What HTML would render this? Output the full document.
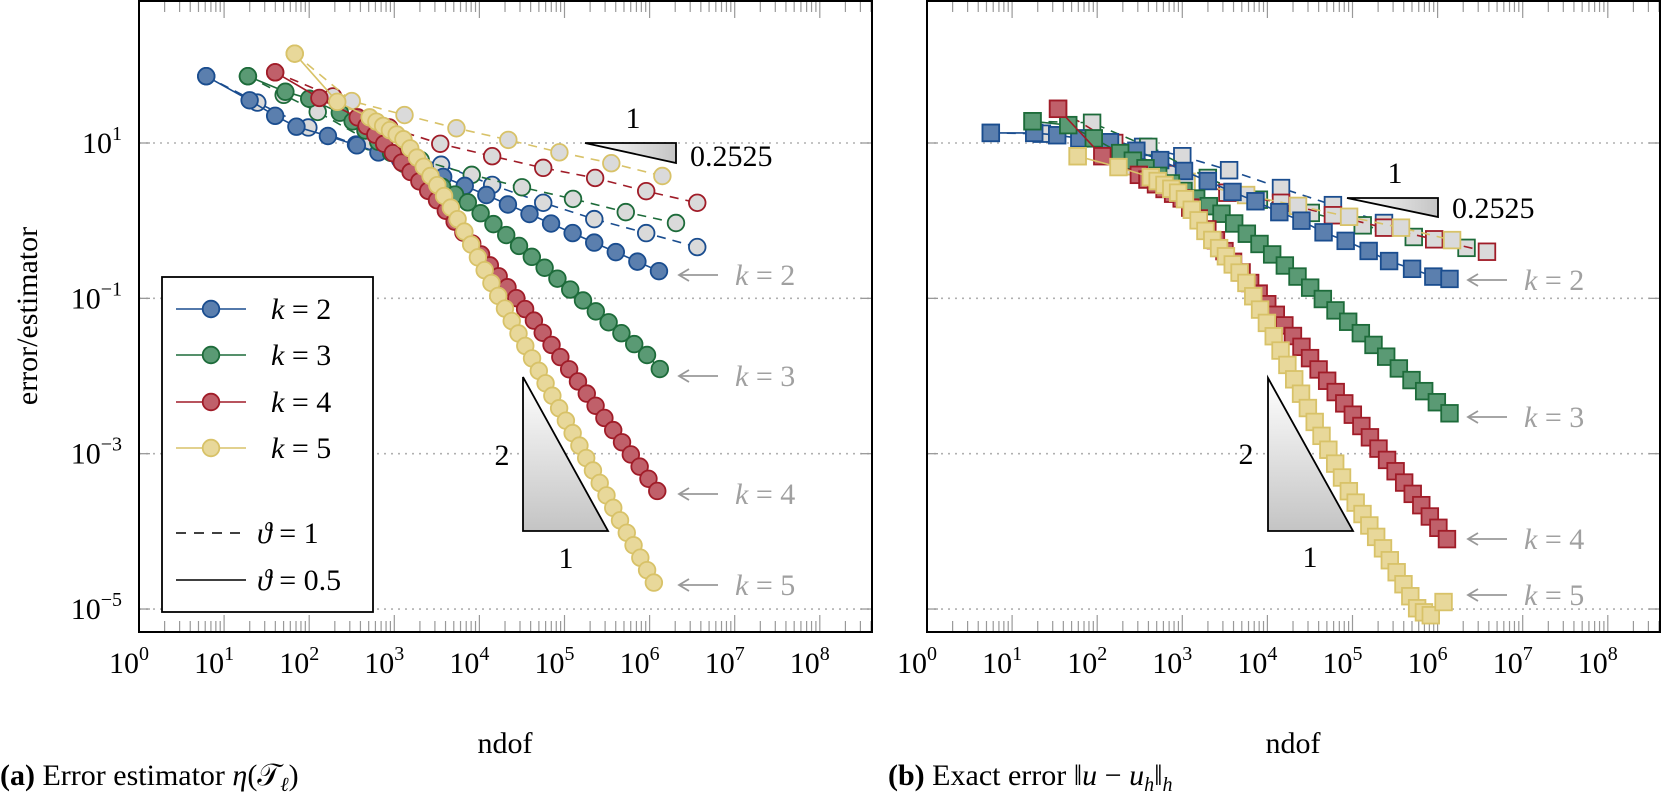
<!DOCTYPE html>
<html><head><meta charset="utf-8"><style>
html,body{margin:0;padding:0;background:#fff;}
svg{display:block;}
text{font-family:"Liberation Serif","DejaVu Serif",serif;}
</style></head><body>
<svg id="s" width="1661" height="797" viewBox="0 0 1661 797" xmlns="http://www.w3.org/2000/svg">
<defs>
<linearGradient id="gh" x1="0" y1="0" x2="1" y2="0"><stop offset="0" stop-color="#fff"/><stop offset="1" stop-color="#c4c4c4"/></linearGradient>
<linearGradient id="gv" x1="0" y1="0" x2="0" y2="1"><stop offset="0" stop-color="#fff"/><stop offset="1" stop-color="#c4c4c4"/></linearGradient>
<clipPath id="c1"><rect x="139" y="1" width="733" height="631"/></clipPath>
<clipPath id="c2"><rect x="927" y="1" width="733" height="631"/></clipPath>
</defs>
<g id="root"></g>
</svg>
<script>
const NS="http://www.w3.org/2000/svg";
const root=document.getElementById('root');
function el(tag,attrs,parent,txt){const e=document.createElementNS(NS,tag);for(const k in attrs)e.setAttribute(k,attrs[k]);if(txt!==undefined)e.textContent=txt;(parent||root).appendChild(e);return e;}
const C={b:['#5b7fae','#1a4d8f'],g:['#5a9a74','#1d6b3a'],r:['#c0606a','#a01c28'],y:['#e8d89a','#d8c268']};
const Y=lv=>143-77.67*(lv-1);
function axes(x0,labelsY){
  const X=l=>x0+85.1*l;
  // gridlines
  [1,-1,-3,-5].forEach(e=>{const y=Y(e);el('line',{x1:x0,x2:x0+733,y1:y,y2:y,stroke:'#b0b0b0','stroke-width':1.6,'stroke-dasharray':'2 5'});
    el('line',{x1:x0,x2:x0+11,y1:y,y2:y,stroke:'#999','stroke-width':1.3});el('line',{x1:x0+722,x2:x0+733,y1:y,y2:y,stroke:'#999','stroke-width':1.3});
    if(labelsY){const t=el('text',{x:122,y:y+10,'font-size':30,'text-anchor':'end'});el('tspan',{},t,'10');el('tspan',{'font-size':20,dy:-13},t,e<0?'\u2212'+(-e):''+e);}
  });
  for(let d=0;d<=8;d++){
    for(let m=1;m<10;m++){const l=d+Math.log10(m);const x=X(l);if(x>x0+733)break;
      const len=m==1?17:11;
      el('line',{x1:x,x2:x,y1:632,y2:632-len,stroke:'#999','stroke-width':1.2});
      el('line',{x1:x,x2:x,y1:1,y2:1+len,stroke:'#999','stroke-width':1.2});}
    const t=el('text',{x:X(d)-10,y:673,'font-size':30,'text-anchor':'middle'});el('tspan',{},t,'10');el('tspan',{'font-size':20,dy:-13},t,''+d);
  }
  el('rect',{x:x0,y:1,width:733,height:631,fill:'none',stroke:'#000','stroke-width':2});
  el('text',{x:x0+366,y:753,'font-size':30,'text-anchor':'middle'},null,'ndof');
  return X;
}
function interp(kn,l){for(let i=0;i<kn.length-1;i++){if(l<=kn[i+1][0]+1e-9){const a=kn[i],b=kn[i+1];const t=(l-a[0])/(b[0]-a[0]);return a[1]+t*(b[1]-a[1]);}}return kn[kn.length-1][1];}
function dense(kn,from,step,extra){const pts=kn.filter(p=>p[0]<from-1e-6);const end=kn[kn.length-1][0];const n=Math.round((end-from)/step);for(let i=0;i<=n;i++){const l=from+(end-from)*i/n;pts.push([l,interp(kn,l)]);}if(extra)extra.forEach(p=>pts.push(p));return pts;}
function series(X,pts,col,dashed,shape,clip){
  const g=el('g',{'clip-path':'url(#'+clip+')'});
  const d=pts.map((p,i)=>(i?'L':'M')+X(p[0]).toFixed(1)+' '+Y(p[1]).toFixed(1)).join(' ');
  el('path',{d:d,fill:'none',stroke:col[1],'stroke-width':1.6,'stroke-dasharray':dashed?'9 7':'none'},g);
  const fill=dashed?'#dadada':col[0];
  pts.forEach(p=>{const x=X(p[0]),y=Y(p[1]);
    if(shape=='c')el('circle',{cx:x,cy:y,r:8.3,fill:fill,stroke:col[1],'stroke-width':1.8},g);
    else el('rect',{x:x-8.3,y:y-8.3,width:16.6,height:16.6,fill:fill,stroke:col[1],'stroke-width':1.8},g);});
}
// ===== LEFT =====
let X1=axes(139,true);
const LD={
 b:[[0.79,1.86],[1.39,1.52],[1.99,1.2],[2.55,0.98],[3.05,0.86],[3.55,0.72],[4.15,0.46],[4.75,0.23],[5.35,0.02],[5.96,-0.16],[6.56,-0.34]],
 g:[[1.28,1.86],[1.7,1.62],[2.1,1.4],[2.71,1.02],[3.31,0.78],[3.91,0.59],[4.5,0.43],[5.1,0.28],[5.72,0.11],[6.31,-0.03]],
 r:[[1.6,1.91],[2.28,1.6],[2.94,1.2],[3.54,0.99],[4.15,0.83],[4.75,0.68],[5.36,0.55],[5.96,0.38],[6.56,0.23]],
 y:[[1.83,2.15],[2.5,1.54],[3.12,1.36],[3.73,1.19],[4.34,1.04],[4.94,0.88],[5.55,0.74],[6.15,0.575]]};
['b','g','r','y'].forEach(k=>series(X1,LD[k],C[k],true,'c','c1'));
series(X1,dense([[0.79,1.86],[1.30,1.55],[1.60,1.35],[1.85,1.21],[2.22,1.09],[2.56,0.97],[3.14,0.76],[4.0,0.37],[6.11,-0.65]],2.56,0.26),C.b,false,'c','c1');
series(X1,dense([[1.28,1.86],[1.72,1.66],[2.0,1.57],[2.36,1.39],[2.63,1.19],[3.10,0.74],[3.86,0.24],[5.97,-1.73],[6.12,-1.91]],2.36,0.15),C.g,false,'c','c1');
series(X1,dense([[1.6,1.91],[2.12,1.58],[2.57,1.33],[2.83,1.05],[3.53,0.23],[4.59,-1.21],[6.09,-3.48]],2.57,0.105),C.r,false,'c','c1');
series(X1,dense([[1.83,2.15],[2.33,1.53],[2.71,1.33],[3.10,1.06],[3.53,0.42],[3.77,-0.03],[4.26,-1.05],[6.05,-4.66]],2.71,0.08),C.y,false,'c','c1');
// ===== RIGHT =====
let X2=axes(927,false);
const RD={
 b:[[0.75,1.13],[1.35,1.12],[1.94,1.06],[2.54,0.95],[3.0,0.83],[3.55,0.65],[4.16,0.42],[4.77,0.2],[5.37,-0.03]],
 g:[[1.24,1.28],[1.94,1.26],[2.6,0.95],[3.3,0.55],[3.9,0.27],[4.51,0.1],[5.12,-0.06],[5.72,-0.21],[6.34,-0.35]],
 r:[[1.54,1.44],[2.2,1.0],[2.9,0.6],[3.53,0.36],[4.16,0.23],[4.77,0.07],[5.37,-0.09],[5.96,-0.24],[6.58,-0.40]],
 y:[[1.77,0.83],[2.4,0.7],[3.05,0.5],[3.75,0.33],[4.36,0.19],[4.96,0.05],[5.57,-0.09],[6.17,-0.25]]};
['b','g','r','y'].forEach(k=>series(X2,RD[k],C[k],true,'s','c2'));
series(X2,[[0.75,1.13],[1.26,1.13],[1.53,1.10],[1.79,1.06],[2.15,1.01],[2.46,0.9],[2.74,0.78],[3.02,0.64],[3.3,0.51],[3.59,0.37],[3.86,0.25],[4.14,0.11],[4.4,0.0],[4.66,-0.15],[4.92,-0.26],[5.19,-0.39],[5.43,-0.52],[5.7,-0.62],[5.95,-0.72],[6.14,-0.75]],C.b,false,'s','c2');
series(X2,dense([[1.24,1.28],[1.66,1.23],[1.96,1.06],[2.27,0.87],[3.49,0.07],[4.02,-0.4],[4.49,-0.85],[5.08,-1.43],[5.67,-2.03],[6.14,-2.48]],2.27,0.15),C.g,false,'s','c2');
series(X2,dense([[1.54,1.44],[2.06,0.83],[2.49,0.59],[3.02,0.27],[3.53,-0.44],[4.37,-1.58],[6.11,-4.10]],2.49,0.1),C.r,false,'s','c2');
series(X2,dense([[1.77,0.83],[2.25,0.69],[2.63,0.56],[3.0,0.33],[3.3,-0.18],[3.72,-0.73],[4.08,-1.5],[4.47,-2.4],[4.95,-3.47],[5.37,-4.24],[5.77,-5.01],[5.92,-5.08]],2.63,0.08,[[6.07,-4.91]]),C.y,false,'s','c2');
// slope triangles
function tri(pts,fill){el('polygon',{points:pts.map(p=>p.join(',')).join(' '),fill:fill,stroke:'#000','stroke-width':1.8});}
tri([[585,143],[676,143],[676,163]],'url(#gh)');
tri([[1347,198],[1438,198],[1438,217]],'url(#gh)');
tri([[523,377],[523,531],[608,531]],'url(#gv)');
tri([[1268,378],[1268,531],[1353,531]],'url(#gv)');
const T=(x,y,s,a,sz)=>el('text',{x:x,y:y,'font-size':sz||30,'text-anchor':a||'middle'},null,s);
T(633,128,'1');T(690,166,'0.2525','start');T(502,465,'2');T(566,568,'1');
T(1395,183,'1');T(1452,218,'0.2525','start');T(1246,464,'2');T(1310,567,'1');
// arrows
function arrow(x,y,k){el('line',{x1:x+40,x2:x+2,y1:y,y2:y,stroke:'#999','stroke-width':1.8});
  el('path',{d:`M${x+11} ${y-6} L${x+1} ${y} L${x+11} ${y+6}`,fill:'none',stroke:'#999','stroke-width':1.8});
  const t=el('text',{x:x+57,y:y+10,'font-size':30,fill:'#a0a0a0'});el('tspan',{'font-style':'italic'},t,'k');el('tspan',{},t,' = '+k);}
[[275,2],[376,3],[494,4],[585,5]].forEach(a=>arrow(678,a[0],a[1]));
[[280,2],[417,3],[539,4],[595,5]].forEach(a=>arrow(1467,a[0],a[1]));
// legend
el('rect',{x:162,y:277,width:211,height:335,fill:'#fff',stroke:'#000','stroke-width':1.8});
[['b',309,2],['g',355,3],['r',402,4],['y',448,5]].forEach(r=>{const c=C[r[0]];
  el('line',{x1:176,x2:246,y1:r[1],y2:r[1],stroke:c[1],'stroke-width':1.6});
  el('circle',{cx:211,cy:r[1],r:8.3,fill:c[0],stroke:c[1],'stroke-width':1.8});
  const t=el('text',{x:271,y:r[1]+10,'font-size':30});el('tspan',{'font-style':'italic'},t,'k');el('tspan',{},t,' = '+r[2]);});
el('line',{x1:176,x2:246,y1:533,y2:533,stroke:'#000','stroke-width':1.6,'stroke-dasharray':'10 8'});
el('line',{x1:176,x2:246,y1:580,y2:580,stroke:'#000','stroke-width':1.6});
{let t=el('text',{x:257,y:543,'font-size':30});el('tspan',{'font-style':'italic'},t,'\u03D1');el('tspan',{},t,' = 1');
 t=el('text',{x:257,y:590,'font-size':30});el('tspan',{'font-style':'italic'},t,'\u03D1');el('tspan',{},t,' = 0.5');}
// y label
el('text',{x:0,y:0,'font-size':30,'text-anchor':'middle',transform:'translate(37,316) rotate(-90)'},null,'error/estimator');
// captions
{let t=el('text',{x:0,y:785,'font-size':30});el('tspan',{'font-weight':'bold'},t,'(a)');el('tspan',{},t,' Error estimator ');el('tspan',{'font-style':'italic'},t,'\u03B7');el('tspan',{},t,'(\uD835\uDCAF');el('tspan',{'font-size':20,dy:6,'font-style':'italic'},t,'\u2113');el('tspan',{dy:-6},t,')');
 t=el('text',{x:888,y:785,'font-size':30});el('tspan',{'font-weight':'bold'},t,'(b)');el('tspan',{},t,' Exact error \u2016');el('tspan',{'font-style':'italic'},t,'u');el('tspan',{},t,' \u2212 ');el('tspan',{'font-style':'italic'},t,'u');el('tspan',{'font-size':20,dy:6,'font-style':'italic'},t,'h');el('tspan',{dy:-6},t,'\u2016');el('tspan',{'font-size':20,dy:6,'font-style':'italic'},t,'h');}
</script>
</body></html>
